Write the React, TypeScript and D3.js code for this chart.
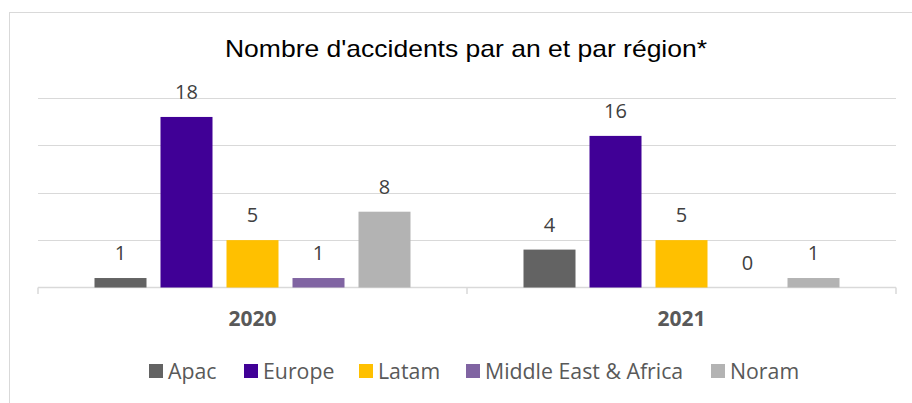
import React from "react";
import * as d3 from "d3";

const years = ["2020", "2021"];
const regions = ["Apac", "Europe", "Latam", "Middle East & Africa", "Noram"];
const colors = ["#636363", "#400096", "#ffc000", "#8064a2", "#b3b3b3"];
const values2020 = [1, 18, 5, 1, 8];
const values2021 = [4, 16, 5, 0, 1];
const yTicks = [0, 5, 10, 15, 20];
const title = "Nombre d'accidents par an et par région*";

const W = 912;
const H = 403;

export default function App() {
  const series = [values2020, values2021];
  const x0 = d3.scaleBand().domain(years).range([38, 896]).paddingInner(0).paddingOuter(0);
  const y = d3.scaleLinear().domain([0, 20]).range([287.5, 98]);
  const groupW = 316;
  const inner = d3
    .scaleBand()
    .domain(regions)
    .range([(x0.bandwidth() - groupW) / 2, (x0.bandwidth() + groupW) / 2])
    .paddingInner(14 / 66)
    .paddingOuter(0);
  const legendX = [149, 244, 359, 466, 711];
  const labelFont = "'Open Sans', 'Liberation Sans', sans-serif";
  return (
    <svg width={W} height={H} style={{ position: "absolute", left: 0, top: 0, background: "#fff" }}>
      <rect x={9.5} y={12.5} width={1000} height={600} fill="#fff" stroke="#d9d9d9" />
      <text
        x={466}
        y={57}
        textAnchor="middle"
        fontFamily="'Liberation Sans', Arial, sans-serif"
        fontSize={24}
        textLength={482}
        lengthAdjust="spacingAndGlyphs"
        fill="#000"
      >
        {title}
      </text>
      {yTicks.slice(1).map((t) => (
        <line key={t} x1={38} x2={896} y1={Math.round(y(t)) + 0.5} y2={Math.round(y(t)) + 0.5} stroke="#d9d9d9" />
      ))}
      <line x1={38} x2={896} y1={287.5} y2={287.5} stroke="#d9d9d9" strokeWidth={1.5} />
      {[38, 467, 896].map((tx) => (
        <line key={tx} x1={tx} x2={tx} y1={287.5} y2={294} stroke="#d9d9d9" strokeWidth={1.5} />
      ))}
      {years.map((yr, gi) => (
        <g key={yr} transform={`translate(${x0(yr)},0)`}>
          {regions.map((r, i) => {
            const v = series[gi][i];
            const bx = inner(r)!;
            const bw = inner.bandwidth();
            return (
              <g key={r}>
                {v > 0 && (
                  <rect x={bx} y={y(v)} width={bw} height={y(0) - y(v)} fill={colors[i]} />
                )}
                <text
                  x={bx + bw / 2}
                  y={y(v) - 18}
                  textAnchor="middle"
                  fontFamily={labelFont}
                  fontSize={20}
                  fill="#404040"
                >
                  {v}
                </text>
              </g>
            );
          })}
          <text
            x={x0.bandwidth() / 2}
            y={326}
            textAnchor="middle"
            fontFamily={labelFont}
            fontSize={21}
            fontWeight="bold"
            fill="#595959"
          >
            {yr}
          </text>
        </g>
      ))}
      {regions.map((r, i) => (
        <g key={r} transform={`translate(${legendX[i]},0)`}>
          <rect x={0} y={364} width={14} height={14} fill={colors[i]} />
          <text x={19} y={379} fontFamily={labelFont} fontSize={21.3} fill="#595959">
            {r}
          </text>
        </g>
      ))}
    </svg>
  );
}
